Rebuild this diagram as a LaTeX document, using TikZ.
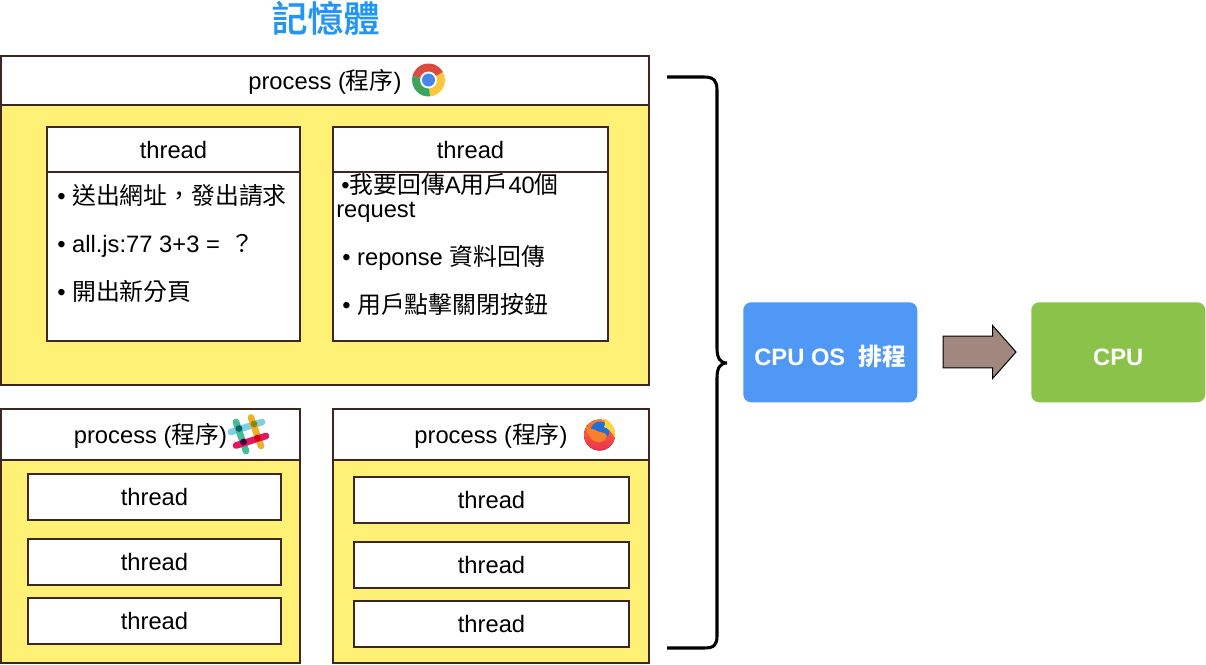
\documentclass[tikz,border=0pt]{standalone}
\usepackage{fontspec}
\usepackage{xcolor}
\setmainfont{Liberation Sans}
\newfontfamily\cjk[Scale=1.005]{Noto Sans CJK TC}
\newfontfamily\cjktitle[FakeBold=0.4]{Noto Sans CJK TC Medium}
\newcommand{\zh}[1]{{\cjk #1}}
\usetikzlibrary{positioning, shapes.arrows}
\definecolor{framebrown}{HTML}{3E2723}
\definecolor{memyellow}{HTML}{FFF176}
\definecolor{titleblue}{HTML}{2196F3}
\definecolor{osblue}{HTML}{4F98F5}
\definecolor{cpugreen}{HTML}{8BC34A}
\definecolor{arrowbrown}{HTML}{A1887F}
\definecolor{chromered}{HTML}{DB4B3F}
\definecolor{chromeyellow}{HTML}{FBC83C}
\definecolor{chromegreen}{HTML}{3BA55C}
\definecolor{chromeblue}{HTML}{4A86E8}
\definecolor{slackblue}{HTML}{7CCFE6}
\definecolor{slackteal}{HTML}{45BC98}
\definecolor{slackyellow}{HTML}{EDB02E}
\definecolor{slackpink}{HTML}{E4185F}
\definecolor{foxblue}{HTML}{1F6FD6}
\definecolor{foxorange}{HTML}{F9802A}
\definecolor{foxyellow}{HTML}{FFD43A}
\definecolor{foxred}{HTML}{EE2C4E}
\tikzset{boxsize/.style 2 args={minimum width=#1*0.75pt, minimum height=#2*0.75pt}}
\tikzstyle{every node}=[font=\fontsize{17.8pt}{21pt}\selectfont]
\tikzstyle{whitebox} = [rectangle, anchor=north west, fill=white, draw=framebrown, line width=2.1pt, inner sep=0pt, outer sep=0pt, text height=16.5pt, text depth=3.75pt]
\tikzstyle{yellowbox} = [whitebox, fill=memyellow]
\tikzstyle{bullet} = [anchor=base west, inner sep=0pt]
\tikzstyle{schedbox} = [rectangle, rounded corners=6pt, anchor=north west, text=white, font=\fontsize{17.8pt}{21pt}\selectfont\bfseries, text height=19.5pt, text depth=0pt, boxsize={174}{100}]
\begin{document}
\begin{tikzpicture}[x=0.75pt,y=-0.75pt]
	\useasboundingbox (0,0) rectangle (1206,664);
	\node (title) [anchor=center, text=titleblue, font=\fontsize{27pt}{30pt}\selectfont] at (325.5,18) {\cjktitle 記憶體};
	% chrome
	\node (prochead1) [whitebox, boxsize={648}{49}] at (1,56) {process (\zh{程序})};
	\node (procbody1) [yellowbox, boxsize={648}{280}, below=0pt of prochead1] {};
	\node (threadhead1) [whitebox, boxsize={253}{45}] at (47,127) {thread};
	\node (threadbody1) [whitebox, boxsize={253}{169}, below=0pt of threadhead1] {};
	\node (threadhead2) [whitebox, boxsize={275}{45}] at (333,127) {thread};
	\node (threadbody2) [whitebox, boxsize={275}{169}, below=0pt of threadhead2] {};
	\node (left1) [bullet] at (57,204) {• \zh{送出網址，發出請求}};
	\node (left2) [bullet] at (57,252) {• all.js:77 3+3 =~\hspace{3pt}\zh{？}};
	\node (left3) [bullet] at (57,300) {• \zh{開出新分頁}};
	\node (right1) [bullet] at (341,193) {•\zh{我要回傳}A\zh{用戶}40\zh{個}};
	\node (right2) [bullet] at (336,217) {request};
	\node (right3) [bullet] at (342,265) {• reponse \zh{資料回傳}};
	\node (right4) [bullet] at (342,313) {• \zh{用戶點擊關閉按鈕}};
	% slack
	\node (prochead2) [whitebox, boxsize={299}{51}] at (1,409) {process (\zh{程序})};
	\node (procbody2) [yellowbox, boxsize={299}{203}, below=0pt of prochead2] {};
	\node (threadA1) [whitebox, boxsize={253}{46}] at (28,474) {thread};
	\node (threadA2) [whitebox, boxsize={253}{46}] at (28,539) {thread};
	\node (threadA3) [whitebox, boxsize={253}{46}] at (28,598) {thread};
	% firefox
	\node (prochead3) [whitebox, boxsize={316}{51}] at (333,409) {process (\zh{程序})};
	\node (procbody3) [yellowbox, boxsize={316}{203}, below=0pt of prochead3] {};
	\node (threadB1) [whitebox, boxsize={275}{46}] at (354,477) {thread};
	\node (threadB2) [whitebox, boxsize={275}{46}] at (354,542) {thread};
	\node (threadB3) [whitebox, boxsize={275}{46}] at (354,601) {thread};
	% brace
	\draw [black, line width=2.3pt] (667,77) -- (704,77) .. controls (714,77) and (717,81) .. (717,90) -- (717,348) .. controls (717,358) and (720,363) .. (727,363) .. controls (720,363) and (717,368) .. (717,378) -- (717,636) .. controls (717,645) and (714,648) .. (704,648) -- (667,648);
	% os and cpu
	\node (sched) [schedbox, fill=osblue] at (743,302) {CPU OS~~\zh{排程}};
	\node (cpu) [schedbox, fill=cpugreen] at (1031,302) {CPU};
	\node (runarrow) [single arrow, draw=black, fill=arrowbrown, line width=0.75pt, inner sep=11.6pt, outer sep=0pt, minimum height=54.75pt, minimum width=39pt, single arrow head extend=7.9pt, single arrow tip angle=97, anchor=west] at (943,352) {};
	% chrome icon
	\begin{scope}[shift={(428.5,80)},x=0.75pt,y=0.75pt]
		\fill [chromered] (0,0) -- (28:16.5) arc (28:165:16.5) -- cycle;
		\fill [chromeyellow] (0,0) -- (-85:16.5) arc (-85:28:16.5) -- cycle;
		\fill [chromegreen] (0,0) -- (165:16.5) arc (165:275:16.5) -- cycle;
		\fill [white] (0,0) circle (8.5);
		\fill [chromeblue] (0,0) circle (6.5);
	\end{scope}
	% slack icon
	\draw [line cap=round, line width=5pt, slackblue] (231,432) -- (262,422);
	\draw [line cap=round, line width=5pt, slackteal] (236,422) -- (246,451);
	\draw [line cap=round, line width=5pt, slackyellow] (251,417.5) -- (261,446);
	\draw [line cap=round, line width=5pt, slackpink] (236,445.5) -- (266,436);
	\fill [teal!80!black] (239,428.5) circle (3.4);
	\fill [olive] (254,424) circle (3.4);
	\fill [violet!50!black] (243.5,442) circle (3.4);
	\fill [red!85!black] (257.5,438) circle (3.4);
	% firefox icon
	\fill [top color=foxorange, bottom color=foxred] (599.5,435) circle (15.5);
	\fill [foxblue] (600,431) circle (9.5);
	\fill [foxorange] (586,424) .. controls (589,431) and (595,428) .. (597,431) .. controls (600,433) and (605,431) .. (607,436) .. controls (605,444) and (595,444) .. (591,438) .. controls (588,434) and (586,430) .. (586,424);
	\fill [foxyellow] (603,418) .. controls (612,421) and (616,430) .. (615,438) .. controls (612,432) and (608,428) .. (604,427) .. controls (606,424) and (605,421) .. (603,418);
\end{tikzpicture}
\end{document}
